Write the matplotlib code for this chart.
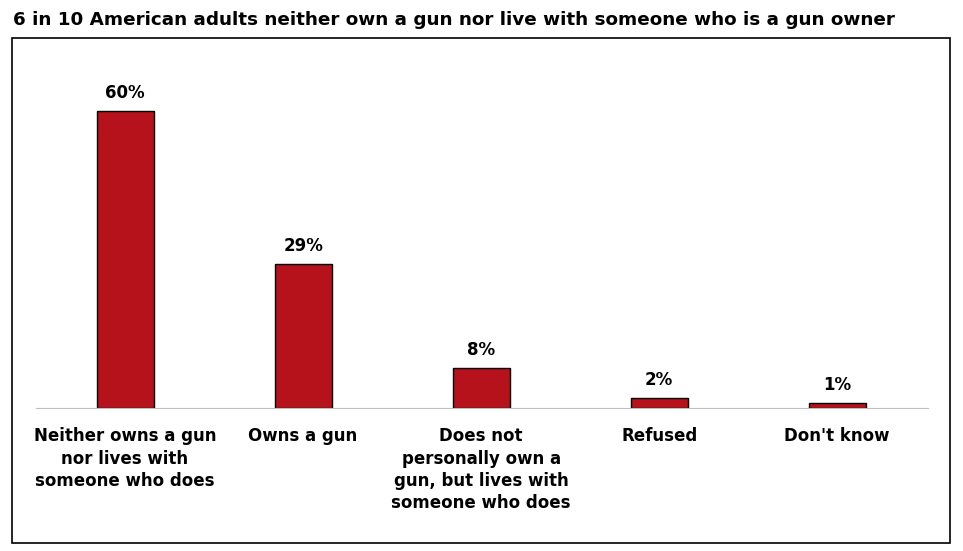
import matplotlib.pyplot as plt
from matplotlib.patches import Rectangle

categories = ["Neither owns a gun\nnor lives with\nsomeone who does",
              "Owns a gun",
              "Does not\npersonally own a\ngun, but lives with\nsomeone who does",
              "Refused",
              "Don't know"]
values = [60, 29, 8, 2, 1]
title = "6 in 10 American adults neither own a gun nor live with someone who is a gun owner"

plt.rcParams['font.family'] = ['DejaVu Sans']

fig = plt.figure(figsize=(9.63, 5.51), dpi=100)
fig.patches.append(Rectangle((12/963, 8/551), 938/963, 505/551, transform=fig.transFigure,
                             fill=False, edgecolor='black', linewidth=1.2))
fig.text(13/963, 1 - 20/551, title, fontsize=13.2, fontweight='bold', va='center', ha='left')

ax = fig.add_axes([36/963, 143/551, 892/963, 322/551])
x = range(len(values))
ax.bar(x, values, width=0.32, color='#B5121B', edgecolor='black', linewidth=1)
for xi, v in zip(x, values):
    ax.text(xi, v + 1.8, f"{v}%", ha='center', va='bottom', fontsize=12, fontweight='bold')

ax.set_xlim(-0.5, 4.51)
ax.set_ylim(0, 65)
ax.set_yticks([])
ax.set_xticks(list(x))
ax.set_xticklabels(categories, fontsize=12, fontweight='bold', linespacing=1.3, va='top')
ax.tick_params(axis='x', length=0, pad=14)
for s in ['top', 'right', 'left']:
    ax.spines[s].set_visible(False)
ax.spines['bottom'].set_color('#bfbfbf')

fig.savefig('out.png', dpi=100)
